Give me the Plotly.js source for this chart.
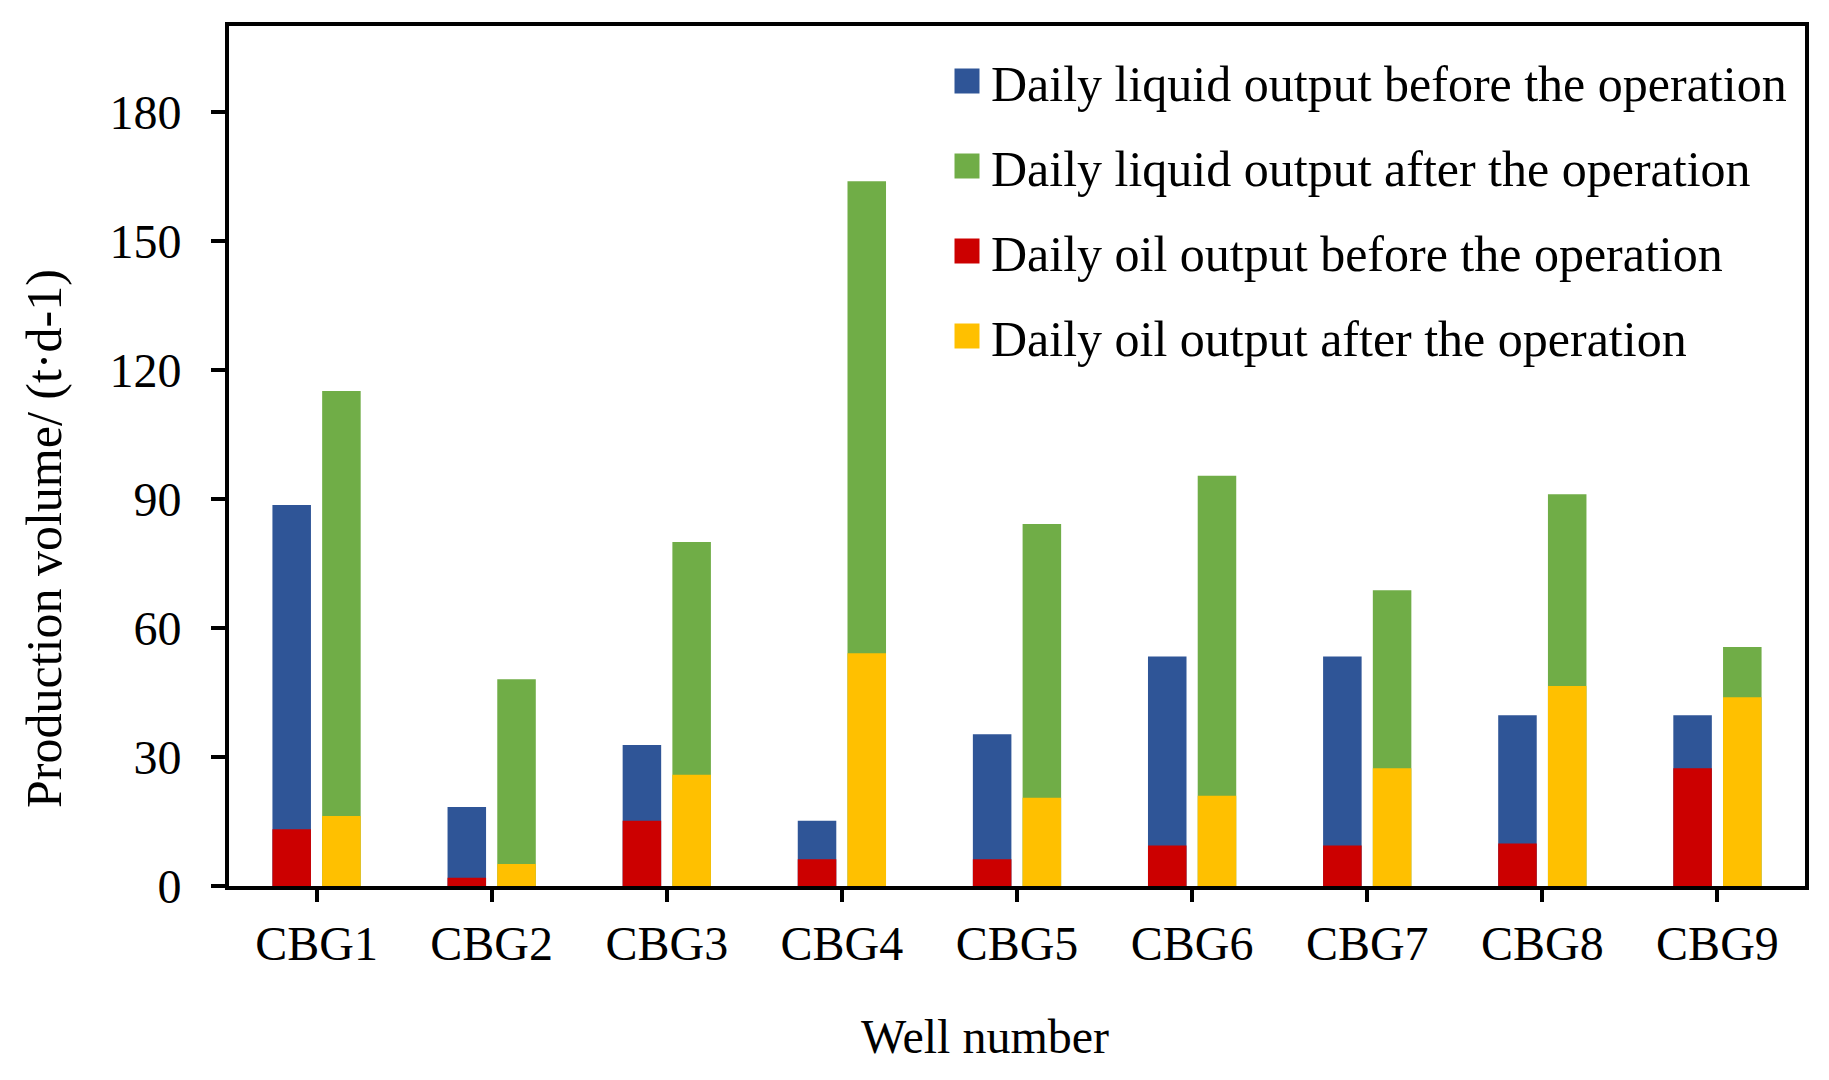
<!DOCTYPE html>
<html>
<head>
<meta charset="utf-8">
<script src="https://cdn.plot.ly/plotly-3.0.1.min.js"></script>
<style>
html,body{margin:0;padding:0;background:#fff;}
#chart{width:1829px;height:1080px;}
</style>
</head>
<body>
<div id="chart"></div>
<script>
// ---- data ----
const wells = ["CBG1","CBG2","CBG3","CBG4","CBG5","CBG6","CBG7","CBG8","CBG9"];
const liquidBefore = [88.6, 18.4, 32.8, 15.2, 35.3, 53.4, 53.4, 39.7, 39.7];
const liquidAfter  = [115.1, 48.1, 80.0, 163.9, 84.2, 95.4, 68.8, 91.1, 55.6];
const oilBefore    = [13.2, 1.9, 15.2, 6.2, 6.2, 9.4, 9.4, 9.9, 27.4];
const oilAfter     = [16.3, 5.1, 25.9, 54.1, 20.5, 21.0, 27.4, 46.5, 43.9];
const seriesNames = [
  "Daily liquid output before the operation",
  "Daily liquid output after the operation",
  "Daily oil output before the operation",
  "Daily oil output after the operation"
];
const yTicks = [0, 30, 60, 90, 120, 150, 180];
const xTitle = "Well number";
const yTitle = "Production volume/ (t\u00b7d-1)";

const FONT = "'Times New Roman', 'Liberation Serif', serif";
const colors = ["#2F5597", "#70AD47", "#CC0000", "#FFC000"];
const BW = 0.22, OFF_BEFORE = -0.252, OFF_AFTER = 0.032;

function barTrace(y, i, off) {
  return {
    type: "bar", x: wells, y: y, name: seriesNames[i],
    width: BW, offset: off, legendgroup: "g" + i,
    marker: {color: colors[i], line: {width: 0}},
    hoverinfo: "x+y+name"
  };
}

const data = [
  barTrace(liquidBefore, 0, OFF_BEFORE),
  barTrace(liquidAfter, 1, OFF_AFTER),
  barTrace(oilBefore, 2, OFF_BEFORE),
  barTrace(oilAfter, 3, OFF_AFTER)
];

const ML = 229, MR = 24, MT = 26, MB = 194;
const PW = 1829 - ML - MR, PH = 1080 - MT - MB;

const layout = {
  width: 1829, height: 1080,
  paper_bgcolor: "#fff", plot_bgcolor: "#fff",
  margin: {l: ML, r: MR, t: MT, b: MB, pad: 0},
  barmode: "overlay",
  font: {family: FONT, color: "#000", size: 48},
  showlegend: true,
  legend: {
    x: (951 - ML) / PW, xanchor: "left", y: 1 - 16 / PH, yanchor: "top",
    bgcolor: "rgba(0,0,0,0)", borderwidth: 0,
    font: {family: FONT, size: 50, color: "#000"},
    tracegroupgap: 17, itemwidth: 30, traceorder: "grouped"
  },
  xaxis: {
    type: "category", range: [-0.5, 8.5],
    showline: true, linecolor: "#000", linewidth: 4, mirror: true,
    ticks: "outside", ticklen: 12, tickwidth: 4, tickcolor: "#000",
    tickfont: {family: FONT, size: 48, color: "#000"},
    ticklabelstandoff: 0,
    showgrid: false, zeroline: false, fixedrange: true
  },
  yaxis: {
    range: [0, 200], tickvals: yTicks, ticktext: yTicks.map(String),
    showline: true, linecolor: "#000", linewidth: 4, mirror: true,
    ticks: "outside", ticklen: 14, tickwidth: 4, tickcolor: "#000",
    tickfont: {family: FONT, size: 48, color: "#000"},
    ticklabelstandoff: 20,
    showgrid: false, zeroline: false, fixedrange: true
  },
  annotations: [
    {text: xTitle, xref: "paper", yref: "paper", x: (985 - ML) / PW, y: -(1036 - (1080 - MB)) / PH,
     xanchor: "center", yanchor: "middle", showarrow: false,
     font: {family: FONT, size: 48, color: "#000"}},
    {text: yTitle, xref: "paper", yref: "paper", x: -(ML - 44) / PW, y: ((1080 - MB) - 539) / PH,
     xanchor: "center", yanchor: "middle", showarrow: false, textangle: -90,
     font: {family: FONT, size: 50, color: "#000"}}
  ]
};

function fixLegendIcons() {
  document.querySelectorAll(".legend .traces .legendpoints path").forEach(function (p) {
    p.setAttribute("d", "M12.5,12.5H-12.5V-12.5H12.5Z");
    p.setAttribute("transform", "translate(16,0)");
    p.style.strokeWidth = "0px";
  });
}

Plotly.newPlot("chart", data, layout, {displayModeBar: false, staticPlot: true}).then(function () {
  fixLegendIcons();
  setTimeout(fixLegendIcons, 50);
  setTimeout(fixLegendIcons, 300);
});
</script>
</body>
</html>
